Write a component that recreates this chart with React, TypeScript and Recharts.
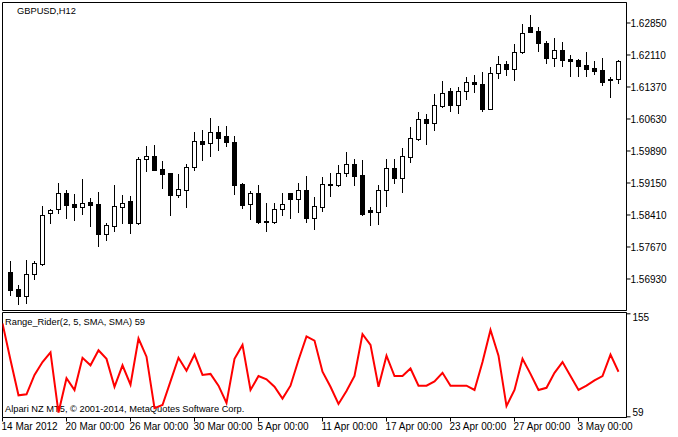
import React from "react";
import { ComposedChart, Bar, Line, XAxis, YAxis, ReferenceArea } from "recharts";

// bar index -1 .. 76 (bar -1 sits under the left frame)
const opens = [
  1.57073, 1.57073, 1.56687, 1.56532, 1.57027, 1.57273, 1.58437, 1.5853, 1.589, 1.58653,
  1.5859, 1.58692, 1.58653, 1.57966, 1.58151, 1.5859, 1.58722, 1.58221, 1.59686, 1.59763,
  1.59462, 1.5937, 1.58868, 1.58983, 1.59515, 1.6011, 1.60057, 1.60311, 1.60232, 1.60087,
  1.59115, 1.58646, 1.589, 1.5826, 1.58243, 1.5853, 1.589, 1.58775, 1.58969, 1.58336,
  1.5859, 1.59115, 1.59085, 1.59363, 1.59571, 1.59323, 1.58507, 1.58474, 1.58969, 1.59478,
  1.59261, 1.59751, 1.60163, 1.60618, 1.60533, 1.60926, 1.61266, 1.60935, 1.61266, 1.61481,
  1.61421, 1.60856, 1.61675, 1.6189, 1.61782, 1.62161, 1.62739, 1.62653, 1.62369, 1.62036,
  1.62214, 1.62006, 1.61983, 1.61867, 1.61805, 1.61752, 1.61551, 1.61537,
];
const highs = [
  1.5715, 1.57335, 1.56779, 1.57358, 1.57335, 1.58607, 1.5853, 1.59138, 1.58976, 1.58884,
  1.59231, 1.58784, 1.5893, 1.58213, 1.59092, 1.58861, 1.58838, 1.59747, 1.60001, 1.6001,
  1.59647, 1.59375, 1.59347, 1.59578, 1.60318, 1.60364, 1.60642, 1.60456, 1.60456, 1.60226,
  1.59138, 1.58946, 1.59092, 1.58669, 1.58669, 1.58907, 1.58905, 1.59138, 1.593, 1.58814,
  1.59277, 1.5937, 1.59555, 1.59855, 1.59693, 1.5967, 1.58576, 1.59092, 1.59693, 1.59693,
  1.59945, 1.60433, 1.60774, 1.6074, 1.61196, 1.61497, 1.61328, 1.61351, 1.61582, 1.61636,
  1.61712, 1.61828, 1.62075, 1.61967, 1.62353, 1.62815, 1.63023, 1.62739, 1.62422, 1.62485,
  1.62392, 1.62098, 1.62006, 1.62174, 1.6196, 1.62036, 1.61597, 1.61983,
];
const lows = [
  1.5699, 1.56548, 1.56333, 1.5637, 1.56925, 1.57249, 1.58206, 1.58451, 1.58336, 1.58283,
  1.58428, 1.58151, 1.57689, 1.57827, 1.58035, 1.58206, 1.57989, 1.58197, 1.59423, 1.5944,
  1.5903, 1.58405, 1.58822, 1.5859, 1.59439, 1.5967, 1.5977, 1.59901, 1.60001, 1.58891,
  1.58567, 1.58313, 1.58221, 1.58035, 1.58221, 1.58405, 1.58336, 1.58474, 1.58243, 1.58082,
  1.58498, 1.58845, 1.59062, 1.59293, 1.59094, 1.58405, 1.58174, 1.58197, 1.58613, 1.59145,
  1.58939, 1.59631, 1.60133, 1.6004, 1.60364, 1.60896, 1.60803, 1.60764, 1.61081, 1.6125,
  1.6081, 1.6085, 1.61573, 1.61636, 1.6152, 1.62138, 1.6263, 1.62198, 1.6192, 1.61851,
  1.61851, 1.61613, 1.61613, 1.61613, 1.61659, 1.61405, 1.61134, 1.61444,
];
const closes = [
  1.57073, 1.5667, 1.56532, 1.57027, 1.57282, 1.58392, 1.58507, 1.589, 1.58637, 1.5859,
  1.58669, 1.58637, 1.57966, 1.5816, 1.586, 1.58669, 1.58221, 1.59693, 1.59763, 1.59446,
  1.59354, 1.58868, 1.58994, 1.59508, 1.6011, 1.60048, 1.60311, 1.60186, 1.60093, 1.59099,
  1.58637, 1.589, 1.58243, 1.58243, 1.5853, 1.58646, 1.58775, 1.58969, 1.58336, 1.586,
  1.59108, 1.59085, 1.59363, 1.59571, 1.59307, 1.58428, 1.58474, 1.58969, 1.59478, 1.59261,
  1.59756, 1.60179, 1.60618, 1.60533, 1.60935, 1.61213, 1.60935, 1.61266, 1.61467, 1.61421,
  1.6085, 1.61675, 1.61884, 1.61782, 1.62161, 1.626, 1.62637, 1.62369, 1.62036, 1.62214,
  1.61983, 1.61967, 1.61851, 1.61782, 1.61735, 1.61481, 1.6152, 1.6196,
];
const rangeRider = [
  146, 112, 79, 80, 98, 110, 119, 63, 95, 84,
  114, 107, 121, 113, 87, 107, 89, 132, 115, 67,
  70, 92, 114, 102, 117, 98, 99, 88, 72, 113,
  126, 84, 97, 94, 87, 76, 88, 112, 134, 130,
  101, 87, 71, 83, 97, 136, 126, 87, 116, 97,
  97, 104, 88, 88, 92, 100, 88, 88, 88, 84,
  110, 140, 116, 69, 84, 113, 99, 84, 86, 100,
  110, 97, 84, 88, 93, 97, 117, 101,
];
const priceTicks = [1.5693, 1.5767, 1.5841, 1.5915, 1.5989, 1.6063, 1.6137, 1.6211, 1.6285];
const rrTicks = [59, 155];
const timeTickBars = [-1, 7, 15, 23, 31, 39, 47, 55, 63, 71];
const timeTickLabels = [
  "14 Mar 2012", "20 Mar 00:00", "26 Mar 00:00", "30 Mar 00:00", "5 Apr 00:00",
  "11 Apr 00:00", "17 Apr 00:00", "23 Apr 00:00", "27 Apr 00:00", "3 May 00:00",
];

const candles = opens.map((o, k) => ({
  i: k - 1, open: o, high: highs[k], low: lows[k], close: closes[k],
}));
const rrData = rangeRider.map((v, k) => ({ i: k - 1, rr: v }));

const P_MIN = 1.5620155;
const P_MAX = 1.6332405;
const RR_MIN = 58.35;
const RR_MAX = 156.21;
const X_DOMAIN: [number, number] = [-1, 77];

const FONT = "'Liberation Sans', Arial, sans-serif";
const NARROW = "'Liberation Sans Narrow', 'Arial Narrow', 'Liberation Sans', sans-serif";

const snap = (v: number) => Math.round(v - 0.5) + 0.5;

const Candle = (props: any) => {
  const { x, y, width, height, payload } = props;
  if (x == null || y == null || !payload) return null;
  const top = Math.min(y, y + height);
  const h = Math.abs(height);
  const { open, high, low, close } = payload;
  const span = high - low || 1;
  const py = (p: number) => top + ((high - p) / span) * h;
  const cx = snap(x + width / 2);
  const yo = snap(py(open));
  const yc = snap(py(close));
  const bull = close > open;
  const bt = Math.min(yo, yc);
  const bb = Math.max(yo, yc);
  return (
    <g>
      <line x1={cx} x2={cx} y1={snap(top)} y2={snap(top + h)} stroke="#000" strokeWidth={1} strokeLinecap="square" />
      <rect x={cx - 2} y={bt} width={4} height={bb - bt} fill={bull ? "#fff" : "#000"} stroke="#000" strokeWidth={1} />
    </g>
  );
};

const PriceTick = (props: any) => {
  const { x, y, payload } = props;
  return (
    <text x={x} y={y + 3.6} fontFamily={NARROW} fontSize={10} fill="#000" textAnchor="start">
      {Number(payload.value).toFixed(5)}
    </text>
  );
};

const RRTick = (props: any) => {
  const { x, y, payload } = props;
  const dy = payload.value === 155 ? 7.3 : -1.3;
  return (
    <text x={x + 2} y={y + dy} fontFamily={NARROW} fontSize={10} fill="#000" textAnchor="start">
      {payload.value}
    </text>
  );
};

const TimeTick = (props: any) => {
  const { x, payload, index } = props;
  const label = timeTickLabels[index] ?? "";
  return (
    <text x={x - 1} y={430} fontFamily={FONT} fontSize={10} fill="#000" textAnchor="start">
      {label}
    </text>
  );
};

export default function App() {
  return (
    <div style={{ position: "absolute", left: 0, top: 0, width: 678, height: 437, background: "#fff" }}>
      <div style={{ position: "absolute", left: 0, top: 0 }}>
        <ComposedChart width={678} height={312} data={candles} margin={{ top: 2.5, right: 0, bottom: 1.5, left: 2.5 }}>
          <XAxis dataKey="i" type="number" domain={X_DOMAIN} hide allowDataOverflow />
          <YAxis
            orientation="right"
            width={51.5}
            domain={[P_MIN, P_MAX]}
            ticks={priceTicks}
            interval={0}
            allowDataOverflow
            axisLine={{ stroke: "#000" }}
            tickLine={{ stroke: "#000" }}
            tickSize={4}
            tickMargin={0}
            tick={<PriceTick />}
          />
          <ReferenceArea x1={-1} x2={77} y1={P_MIN} y2={P_MAX} fill="none" fillOpacity={0} stroke="#000" strokeWidth={1} />
          <Bar
            dataKey={(d: any) => [d.low, d.high]}
            shape={<Candle />}
            barSize={5}
            isAnimationActive={false}
          />
          <text x={17} y={14} fontFamily={FONT} fontSize={9.3} fill="#000">GBPUSD,H12</text>
        </ComposedChart>
      </div>
      <div style={{ position: "absolute", left: 0, top: 0 }}>
        <ComposedChart width={678} height={437} data={rrData} margin={{ top: 312.5, right: 0, bottom: 0, left: 2.5 }}>
          <XAxis
            dataKey="i"
            type="number"
            domain={X_DOMAIN}
            ticks={timeTickBars}
            interval={0}
            height={19.5}
            allowDataOverflow
            axisLine={false}
            tickLine={{ stroke: "#000" }}
            tickSize={4}
            tickMargin={2}
            tick={<TimeTick />}
          />
          <YAxis
            orientation="right"
            width={51.5}
            domain={[RR_MIN, RR_MAX]}
            ticks={rrTicks}
            interval={0}
            allowDataOverflow
            axisLine={{ stroke: "#000" }}
            tickLine={{ stroke: "#000" }}
            tickSize={4}
            tickMargin={0}
            tick={<RRTick />}
          />
          <ReferenceArea x1={-1} x2={77} y1={RR_MIN} y2={RR_MAX} fill="none" fillOpacity={0} stroke="#000" strokeWidth={1} />
          <Line dataKey="rr" type="linear" stroke="#ff0000" strokeWidth={2} dot={false} isAnimationActive={false} />
          <text x={5} y={325} fontFamily={FONT} fontSize={9.3} fill="#000">Range_Rider(2, 5, SMA, SMA) 59</text>
          <text x={5} y={412} fontFamily={FONT} fontSize={9.3} fill="#000">Alpari NZ MT5, © 2001-2014, MetaQuotes Software Corp.</text>
        </ComposedChart>
      </div>
    </div>
  );
}
